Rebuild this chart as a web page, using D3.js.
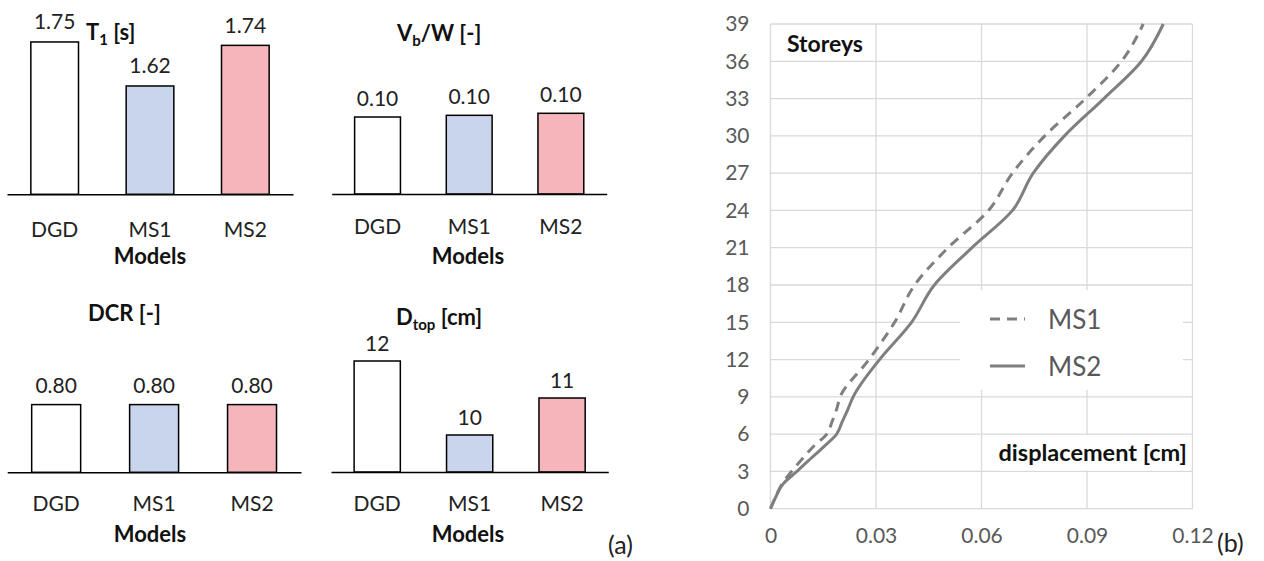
<!DOCTYPE html>
<html><head><meta charset="utf-8">
<script src="https://cdn.jsdelivr.net/npm/d3@7"></script>
<style>
html,body{margin:0;padding:0;background:#fff;}
svg{display:block;font-family:Lato,"Liberation Sans",sans-serif;}
</style>
</head><body>
<svg id="chart" width="1264" height="561"></svg>
<script>
// ---------- data ----------
const models = ["DGD", "MS1", "MS2"];
const modelColors = ["#ffffff", "#c9d5ec", "#f5b5bb"];
const t1Values = [1.75, 1.62, 1.74];
const vbwValues = [0.0954, 0.0975, 0.1000];
const dcrValues = [0.80, 0.80, 0.80];
const dtopValues = [12, 10, 11];

const storeys = [0, 1, 2, 3, 4, 5, 6, 7, 8, 9, 12, 15, 18, 21, 24, 27, 30, 33, 36, 39];
const ms1Disp = [0, 0.0015, 0.0033, 0.0060, 0.0090, 0.0122, 0.0160, 0.0175, 0.0188, 0.0198, 0.0280, 0.0353, 0.0410, 0.0505, 0.0620, 0.0688, 0.0780, 0.0896, 0.0998, 0.1060];
const ms2Disp = [0, 0.0016, 0.0036, 0.0075, 0.0113, 0.0152, 0.0188, 0.0204, 0.0220, 0.0235, 0.0310, 0.0401, 0.0466, 0.0573, 0.0688, 0.0747, 0.0836, 0.0948, 0.1055, 0.1117];
const dispTicks = [0, 0.03, 0.06, 0.09, 0.12];
const storeyTicks = [0, 3, 6, 9, 12, 15, 18, 21, 24, 27, 30, 33, 36, 39];
const seriesNames = ["MS1", "MS2"];

const svg = d3.select("#chart");
const FONT = "Lato,'Liberation Sans',sans-serif";

// ---------- bar panels ----------
const panels = [
  {values: t1Values, fmt: d3.format(".2f"), title: ["T", "1", " [s]"], titleX: 86, titleY: 32,
   xr: [7, 293], base: 194.3, domain: [1.3, 1.8], top: 25.05, catY: 228, modelsX: 150, modelsY: 255, lblOff: 21},
  {values: vbwValues, fmt: d3.format(".2f"), title: ["V", "b", "/W [-]"], titleX: 397, titleY: 33,
   xr: [331.7, 606.7], base: 194, domain: [0, 0.2], top: 32.6, catY: 225, modelsX: 468, modelsY: 255, lblOff: 20},
  {values: dcrValues, fmt: d3.format(".2f"), title: ["DCR [-]", "", ""], titleX: 88, titleY: 313,
   xr: [7.2, 301], base: 472.3, domain: [0, 1.6], top: 336.9, catY: 502, modelsX: 150, modelsY: 533, lblOff: 20},
  {values: dtopValues, fmt: d3.format("d"), title: ["D", "top", " [cm]"], titleX: 396, titleY: 317,
   xr: [331, 608.3], base: 472, domain: [9, 13], top: 324, catY: 502, modelsX: 468, modelsY: 533, lblOff: 18.5}
];

panels.forEach(p => {
  const g = svg.append("g");
  const x = d3.scaleBand().domain(models).range(p.xr).paddingInner(0.5).paddingOuter(0.25);
  const y = d3.scaleLinear().domain(p.domain).range([p.base, p.top]);
  const data = models.map((m, i) => ({m, v: p.values[i], c: modelColors[i]}));

  g.selectAll("rect.bar").data(data).join("rect")
    .attr("class", "bar")
    .attr("x", d => x(d.m))
    .attr("width", x.bandwidth())
    .attr("y", d => y(d.v))
    .attr("height", d => p.base - y(d.v))
    .attr("fill", d => d.c)
    .attr("stroke", "#000")
    .attr("stroke-width", 1.5);

  const ax = g.append("g").attr("transform", `translate(0,${p.base})`)
    .call(d3.axisBottom(x).tickSize(0).tickPadding(0).tickFormat(""));
  ax.select(".domain").attr("stroke", "#000").attr("stroke-width", 1.4);

  g.selectAll("text.val").data(data).join("text")
    .attr("class", "val")
    .attr("x", d => x(d.m) + x.bandwidth() / 2)
    .attr("y", d => y(d.v) - p.lblOff)
    .attr("text-anchor", "middle")
    .attr("dominant-baseline", "central")
    .attr("font-size", 21)
    .attr("fill", "#222")
    .text(d => p.fmt(d.v));

  g.selectAll("text.cat").data(data).join("text")
    .attr("class", "cat")
    .attr("x", d => x(d.m) + x.bandwidth() / 2)
    .attr("y", p.catY)
    .attr("text-anchor", "middle")
    .attr("dominant-baseline", "central")
    .attr("font-size", 21)
    .attr("fill", "#222")
    .text(d => d.m);

  g.append("text")
    .attr("x", p.modelsX).attr("y", p.modelsY)
    .attr("text-anchor", "middle").attr("dominant-baseline", "central")
    .attr("font-size", 22).attr("font-weight", "bold").attr("fill", "#111")
    .text("Models");

  const t = g.append("text")
    .attr("x", p.titleX).attr("y", p.titleY + 8)
    .attr("font-size", 22).attr("font-weight", "bold").attr("fill", "#111");
  t.append("tspan").text(p.title[0]);
  if (p.title[1]) {
    t.append("tspan").attr("dy", 5).attr("font-size", 15).text(p.title[1]);
    t.append("tspan").attr("dy", -5).text(p.title[2]);
  }
});

svg.append("text").attr("x", 608).attr("y", 544).attr("dominant-baseline", "central")
  .attr("font-size", 25).attr("fill", "#222").text("(a)");

// ---------- storey displacement chart ----------
const xS = d3.scaleLinear().domain([0, 0.12]).range([770.5, 1192.5]);
const yS = d3.scaleLinear().domain([0, 39]).range([508.7, 24]);
const gr = svg.append("g");

gr.selectAll("line.vg").data(dispTicks).join("line")
  .attr("class", "vg")
  .attr("x1", d => xS(d)).attr("x2", d => xS(d))
  .attr("y1", yS(0)).attr("y2", yS(39))
  .attr("stroke", "#d9d9d9").attr("stroke-width", 1.3);
gr.selectAll("line.hg").data(storeyTicks).join("line")
  .attr("class", "hg")
  .attr("x1", xS(0)).attr("x2", xS(0.12))
  .attr("y1", d => yS(d)).attr("y2", d => yS(d))
  .attr("stroke", "#d9d9d9").attr("stroke-width", 1.3);

const yAx = gr.append("g").attr("transform", `translate(${xS(0)},0)`)
  .call(d3.axisLeft(yS).tickValues(storeyTicks).tickSize(0).tickPadding(21));
yAx.select(".domain").remove();
yAx.selectAll("text").attr("font-size", 21).attr("fill", "#595959").attr("font-family", FONT);

const xAx = gr.append("g").attr("transform", `translate(0,${yS(0)})`)
  .call(d3.axisBottom(xS).tickValues(dispTicks).tickFormat(d => d === 0 ? "0" : d3.format(".2f")(d)).tickSize(0).tickPadding(19));
xAx.select(".domain").remove();
xAx.selectAll("text").attr("font-size", 21).attr("fill", "#595959").attr("font-family", FONT);

// legend background
gr.append("rect").attr("x", 960).attr("y", 290).attr("width", 223).attr("height", 100).attr("fill", "#fff");

// displacement label with white box
const dlBox = gr.append("rect").attr("fill", "#fff");
const dl = gr.append("text").attr("x", 1187).attr("y", 452)
  .attr("text-anchor", "end").attr("dominant-baseline", "central")
  .attr("font-size", 23.5).attr("font-weight", "bold").attr("fill", "#111")
  .text("displacement [cm]");
const bb = dl.node().getBBox();
dlBox.attr("x", bb.x - 3).attr("y", yS(6) + 1).attr("width", bb.width + 5)
  .attr("height", yS(3) - yS(6) - 2);

gr.append("text").attr("x", 787).attr("y", 43)
  .attr("dominant-baseline", "central")
  .attr("font-size", 23).attr("font-weight", "bold").attr("fill", "#111")
  .text("Storeys");

// lines
const line = d3.line().x(d => xS(d[0])).y(d => yS(d[1])).curve(d3.curveMonotoneY);
const series = [
  {name: seriesNames[0], pts: storeys.map((s, i) => [ms1Disp[i], s]), dash: "10,7"},
  {name: seriesNames[1], pts: storeys.map((s, i) => [ms2Disp[i], s]), dash: null}
];
series.forEach(s => {
  gr.append("path").attr("d", line(s.pts)).attr("fill", "none")
    .attr("stroke", "#7f7f7f").attr("stroke-width", 3)
    .attr("stroke-dasharray", s.dash);
});

// legend
const legY = [319, 366];
series.forEach((s, i) => {
  gr.append("line").attr("x1", 990).attr("x2", 1025).attr("y1", legY[i]).attr("y2", legY[i])
    .attr("stroke", "#7f7f7f").attr("stroke-width", 3).attr("stroke-dasharray", s.dash);
  gr.append("text").attr("x", 1048).attr("y", legY[i]).attr("dominant-baseline", "central")
    .attr("font-size", 26).attr("fill", "#595959").text(s.name);
});

svg.append("text").attr("x", 1217).attr("y", 542).attr("dominant-baseline", "central")
  .attr("font-size", 25).attr("fill", "#222").text("(b)");
</script>
</body></html>
